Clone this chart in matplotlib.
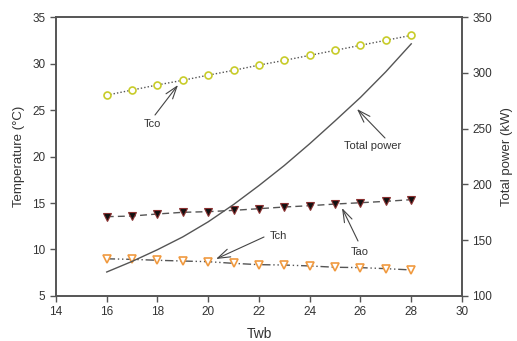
import matplotlib
matplotlib.use("Agg")
import matplotlib.pyplot as plt

plt.rcParams['font.family'] = ['Liberation Sans', 'DejaVu Sans']

twb = [16, 17, 18, 19, 20, 21, 22, 23, 24, 25, 26, 27, 28]
tco = [26.6, 27.15, 27.7, 28.2, 28.75, 29.27, 29.83, 30.34, 30.88, 31.42, 31.96, 32.5, 33.03]
tao = [13.53, 13.6, 13.82, 14.0, 14.07, 14.21, 14.39, 14.57, 14.71, 14.89, 15.03, 15.18, 15.36]
tch = [9.0, 8.94, 8.84, 8.76, 8.69, 8.51, 8.37, 8.33, 8.23, 8.09, 8.05, 7.94, 7.8]
power = [121.5, 131, 141.5, 153, 166.5, 182, 199, 217, 236.5, 257, 278, 301, 326]

xticks = [14, 16, 18, 20, 22, 24, 26, 28, 30]
yticks_left = [5, 10, 15, 20, 25, 30, 35]
yticks_right = [100, 150, 200, 250, 300, 350]

spine_c = '#555555'
text_c = '#333333'

fig = plt.figure(figsize=(5.17, 3.41), dpi=100)
ax = fig.add_axes([0.1083, 0.132, 0.7853, 0.818])
ax2 = ax.twinx()

ax.plot(twb, tco, linestyle=(0, (1, 1.5)), color='#555555', lw=1.0,
        marker='o', ms=5, mfc='white', mec='#c8cc2a', mew=1.2, zorder=3)
ax.plot(twb, tao, linestyle=(0, (5, 3)), color='#555555', lw=1.0,
        marker='v', ms=6, mfc='#111111', mec='#8a3030', mew=0.8, zorder=3)
ax.plot(twb, tch, linestyle=(0, (6, 2, 1, 2, 1, 2)), color='#555555', lw=1.0,
        marker='v', ms=6, mfc='white', mec='#f09a40', mew=1.2, zorder=3)
ax2.plot(twb, power, linestyle='-', color='#555555', lw=1.0)

ax.set_xlim(14, 30)
ax.set_ylim(5, 35)
ax2.set_ylim(100, 350)
ax.set_xticks(xticks)
ax.set_yticks(yticks_left)
ax2.set_yticks(yticks_right)

for a in (ax, ax2):
    for s in a.spines.values():
        s.set_color(spine_c)
        s.set_linewidth(1.2)
    a.tick_params(direction='out', length=4, width=1.0, color=spine_c,
                  labelsize=8.5, labelcolor=text_c)

ax.set_xlabel('Twb', fontsize=10, color=text_c, labelpad=6)
ax.set_ylabel('Temperature (°C)', fontsize=9.5, color=text_c, labelpad=5)
ax2.set_ylabel('Total power (kW)', fontsize=9.5, color=text_c, labelpad=6)

arrow = dict(arrowstyle='->, head_length=0.9, head_width=0.3', color='#444444', lw=0.8,
             shrinkA=0, shrinkB=0)

def px2data(a, px, py):
    inv = a.transData.inverted()
    return inv.transform((px, 341 - py))

fig.canvas.draw()

def ann(a, text, tip, tail, textpos):
    t = px2data(a, *tip)
    s = px2data(a, *tail)
    a.annotate('', xy=t, xytext=s, arrowprops=arrow)
    tp = px2data(a, *textpos)
    a.text(tp[0], tp[1], text, fontsize=8, color=text_c, ha='center', va='center')

ann(ax, 'Tco', (178, 85), (155, 115), (152, 124))
ann(ax, 'Total power', (357, 109), (385, 138), (373, 146))
ann(ax, 'Tch', (216, 259), (264, 237), (278, 236))
ann(ax, 'Tao', (342, 208), (358, 241), (360, 252))

fig.savefig('out.png', dpi=100)
